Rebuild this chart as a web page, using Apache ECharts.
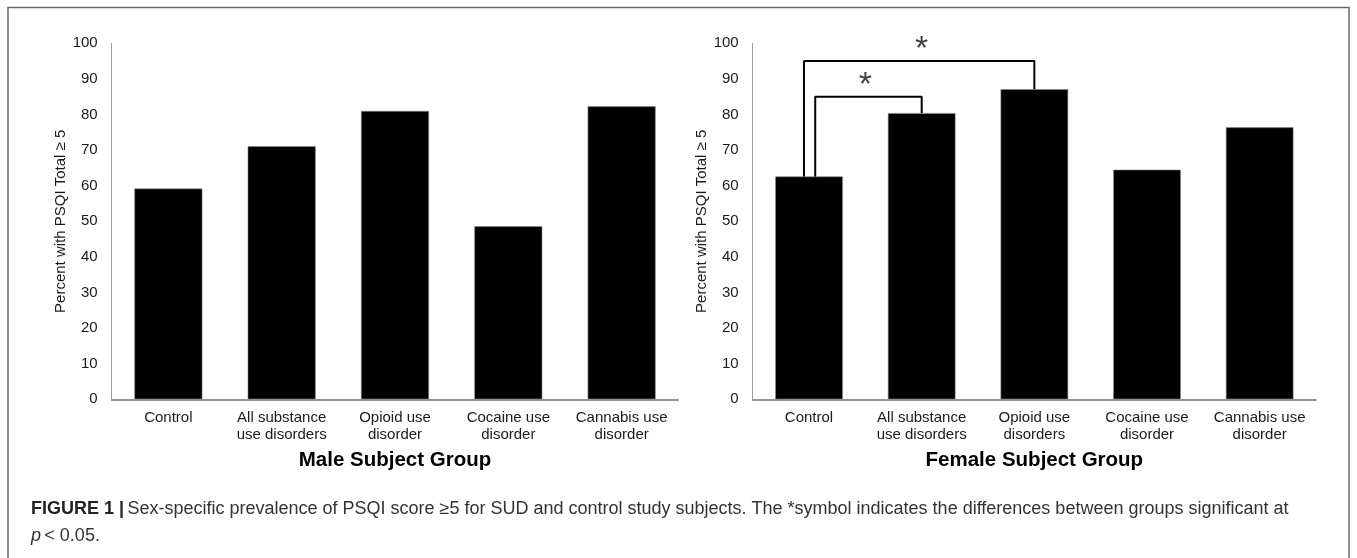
<!DOCTYPE html>
<html>
<head>
<meta charset="utf-8">
<script src="https://cdn.jsdelivr.net/npm/echarts@6/dist/echarts.min.js"></script>
<style>
  html, body { margin: 0; padding: 0; background: #fff; }
  #chart { width: 1357px; height: 558px; }
</style>
</head>
<body>
<div id="chart"></div>
<script>
// ---- data ----
const maleCategories = ['Control', 'All substance\nuse disorders', 'Opioid use\ndisorder', 'Cocaine use\ndisorder', 'Cannabis use\ndisorder'];
const femaleCategories = ['Control', 'All substance\nuse disorders', 'Opioid use\ndisorders', 'Cocaine use\ndisorder', 'Cannabis use\ndisorder'];
const maleValues = [59.2, 71.1, 81.0, 48.6, 82.3];
const femaleValues = [62.6, 80.4, 87.1, 64.5, 76.4];
const yMin = 0, yMax = 100, yInterval = 10;
// significance brackets (female panel): category index from -> to, bracket height
const bracketFrom = [0, 0];
const bracketTo = [2, 1];
const bracketLevel = [95, 85];
const bracketMark = ['*', '*'];
const maleTitle = 'Male Subject Group';
const femaleTitle = 'Female Subject Group';
const yName = 'Percent with PSQI Total \u2265 5';

// ---- chart ----
const FONT = '"Liberation Sans", Arial, Helvetica, sans-serif';
const chart = echarts.init(document.getElementById('chart'), null, { renderer: 'canvas' });

function catAxis(grid, cats, title) {
  return {
    gridIndex: grid, type: 'category', data: cats,
    axisTick: { show: false },
    axisLine: { onZero: false, lineStyle: { color: '#707070', width: 1.5 } },
    axisLabel: { interval: 0, fontSize: 15, color: '#1a1a1a', margin: 10, lineHeight: 17, fontFamily: FONT },
    name: title, nameLocation: 'middle', nameGap: 51,
    nameTextStyle: { fontSize: 20.5, fontWeight: 'bold', color: '#000', fontFamily: FONT }
  };
}
function valAxis(grid) {
  return {
    gridIndex: grid, type: 'value', min: yMin, max: yMax, interval: yInterval,
    axisLine: { show: true, onZero: false, lineStyle: { color: '#a0a0a0', width: 1 } },
    axisTick: { show: false },
    splitLine: { show: false },
    axisLabel: { fontSize: 15, color: '#1a1a1a', margin: 14, fontFamily: FONT },
    name: yName, nameLocation: 'middle', nameGap: 43,
    nameTextStyle: { fontSize: 15, color: '#1a1a1a', fontFamily: FONT }
  };
}
const barStyle = { color: '#000', borderColor: '#8a8a8a', borderWidth: 0.6 };

const series = [
  { type: 'bar', xAxisIndex: 0, yAxisIndex: 0, data: maleValues, barWidth: '60%', itemStyle: barStyle, animation: false },
  { type: 'bar', xAxisIndex: 1, yAxisIndex: 1, data: femaleValues, barWidth: '60%', itemStyle: barStyle, animation: false }
];
const starData = [];
bracketFrom.forEach((f, i) => {
  const t = bracketTo[i];
  const lvl = bracketLevel[i];
  const xs = f + (i === 0 ? -0.045 : 0.055);
  series.push({
    type: 'line', xAxisIndex: 2, yAxisIndex: 1, symbol: 'none', animation: false,
    lineStyle: { color: '#000', width: 2 },
    data: [[xs, femaleValues[f]], [xs, lvl], [t, lvl], [t, femaleValues[t]]]
  });
  starData.push({ value: [(f + t) / 2, lvl], mark: bracketMark[i] });
});
series.push({
  type: 'scatter', xAxisIndex: 2, yAxisIndex: 1, symbolSize: 1, animation: false,
  itemStyle: { color: 'rgba(0,0,0,0)' },
  data: starData,
  label: {
    show: true, position: 'inside', offset: [0, -11],
    formatter: p => p.data.mark,
    fontSize: 34, color: '#111', fontFamily: FONT
  }
});

const option = {
  backgroundColor: '#fff',
  textStyle: { fontFamily: FONT },
  grid: [
    { left: 111.7, right: 678.7, top: 43.3, bottom: 158.7 },
    { left: 752.7, right: 41, top: 43.3, bottom: 158.7 }
  ],
  xAxis: [
    catAxis(0, maleCategories, maleTitle),
    catAxis(1, femaleCategories, femaleTitle),
    { gridIndex: 1, type: 'value', min: -0.5, max: 4.5, show: false,
      axisLine: { onZero: false } }
  ],
  yAxis: [valAxis(0), valAxis(1)],
  series: series,
  graphic: [
    { type: 'rect', shape: { x: 8, y: 7.5, width: 1341, height: 600 },
      style: { fill: 'none', stroke: '#6a6a6a', lineWidth: 1.5 }, silent: true, z: -1 },
    { type: 'text', left: 31, top: 500,
      style: {
        text: '{b|FIGURE 1 |} {r|Sex-specific prevalence of PSQI score \u22655 for SUD and control study subjects. The *symbol indicates the differences between groups significant at}\n{i|p} {r|< 0.05.}',
        rich: {
          b: { fontSize: 18, fontWeight: 'bold', fill: '#222', fontFamily: FONT, lineHeight: 27 },
          r: { fontSize: 18, fill: '#333', fontFamily: FONT, lineHeight: 27 },
          i: { fontSize: 18, fontStyle: 'italic', fill: '#333', fontFamily: FONT, lineHeight: 27 }
        }
      }
    }
  ]
};
chart.setOption(option);
</script>
</body>
</html>
